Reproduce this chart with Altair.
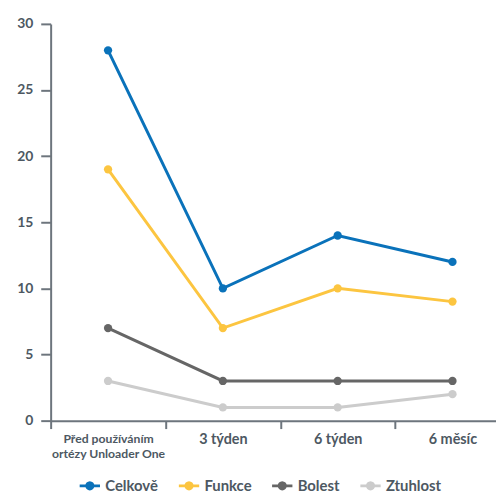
import altair as alt
import pandas as pd
import math

categories = ["Před používáním ortézy Unloader One", "3 týden", "6 týden", "6 měsíc"]
series = ["Celkově", "Funkce", "Bolest", "Ztuhlost"]
colors = ["#0a72ba", "#fcc540", "#666666", "#cccccc"]
celkove = [28, 10, 14, 12]
funkce = [19, 7, 10, 9]
bolest = [7, 3, 3, 3]
ztuhlost = [3, 1, 1, 2]

values = {"Celkově": celkove, "Funkce": funkce, "Bolest": bolest, "Ztuhlost": ztuhlost}
rows = []
for s in series:
    for c, v in zip(categories, values[s]):
        rows.append({"kat": c, "serie": s, "hodnota": v})
df = pd.DataFrame(rows)

FONT = "Lato"
TXT = "#4d5862"
AX = "#6d757d"

x = alt.X(
    "kat:N",
    sort=categories,
    scale=alt.Scale(domain=categories, paddingInner=0, paddingOuter=0),
    axis=alt.Axis(
        title=None,
        labelAngle=0,
        labelExpr="indexof(datum.label, 'Před') == 0 ? ['Před používáním', 'ortézy Unloader One'] : datum.label",
        labelFontSize=alt.condition("indexof(datum.label, 'Před') == 0", alt.value(12.3), alt.value(14.5)),
        labelLineHeight=15,
        labelPadding=4,
        tickBand="extent",
        tickSize=8,
        tickWidth=2,
        domainWidth=2,
        domainColor=AX,
        tickColor=AX,
        labelColor=TXT,
        labelFont=FONT,
        labelFontWeight=700,
    ),
)
y = alt.Y(
    "hodnota:Q",
    scale=alt.Scale(domain=[0, 30], nice=False),
    axis=alt.Axis(
        title=None,
        values=[0, 5, 10, 15, 20, 25, 30],
        grid=False,
        tickSize=10,
        tickWidth=2,
        domainWidth=2,
        domainColor=AX,
        tickColor=AX,
        labelColor=TXT,
        labelFont=FONT,
        labelFontSize=14,
        labelFontWeight=700,
        labelPadding=8,
    ),
)
color_scale = alt.Scale(domain=series, range=colors)

n = 16
r = 0.45
circle = "M" + " L".join(
    f"{r*math.cos(2*math.pi*k/n):.3f},{r*math.sin(2*math.pi*k/n):.3f}" for k in range(n)
) + " Z"
sym = "M-1,-0.13 L1,-0.13 L1,0.13 L-1,0.13 Z " + circle

legend = alt.Legend(
    title=None,
    orient="none",
    legendX=29,
    legendY=455,
    direction="horizontal",
    symbolType=sym,
    symbolSize=420,
    symbolStrokeWidth=0,
    symbolOpacity=1,
    labelFont=FONT,
    labelFontSize=15,
    labelFontWeight=700,
    labelColor=TXT,
    labelOffset=5,
    columnPadding=20,
)

lines = alt.Chart(df).mark_line(strokeWidth=3).encode(
    x=x, y=y,
    color=alt.Color("serie:N", scale=color_scale, legend=legend),
)

points = alt.Chart(df).mark_point(filled=True, size=70, opacity=1).encode(
    x=x, y=y,
    color=alt.Color("serie:N", scale=color_scale, legend=legend),
)

chart = (
    alt.layer(lines, points)
    .properties(width=463, height=400, padding={"top": 7, "left": 8, "right": -15, "bottom": 5})
    .configure_view(stroke=None)
)

chart.save("out.html", embed_options={"renderer": "svg", "actions": False})
